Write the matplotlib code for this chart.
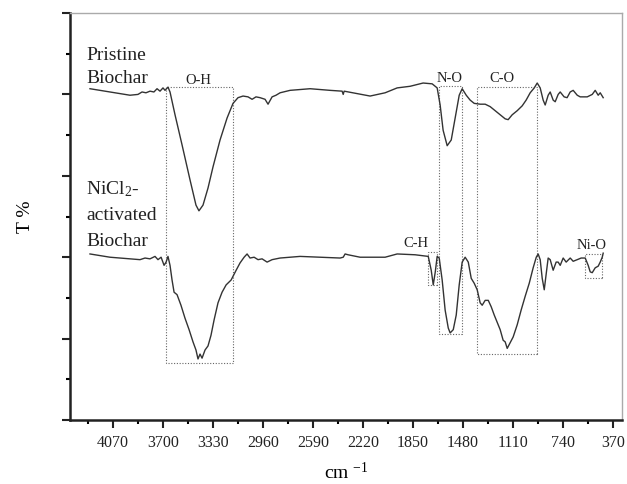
import matplotlib
matplotlib.use("Agg")
import matplotlib.pyplot as plt
from matplotlib.patches import Rectangle
from matplotlib.ticker import MultipleLocator, FixedLocator

plt.rcParams['font.family'] = ['Liberation Serif', 'DejaVu Serif']
plt.rcParams['mathtext.fontset'] = 'custom'
plt.rcParams['mathtext.rm'] = 'Liberation Serif'
plt.rcParams['mathtext.it'] = 'Liberation Serif:italic'

# Pristine biochar spectrum (wavenumber, offset transmittance)
pristine_wn = [4240, 4092, 3944, 3885, 3855, 3826, 3796, 3767, 3744, 3722, 3700, 3685, 3663, 3648,
               3611, 3559, 3500, 3456, 3434, 3404, 3367, 3330, 3278, 3226, 3182, 3145, 3108, 3071,
               3041, 3012, 2982, 2945, 2923, 2893, 2864, 2834, 2760, 2612, 2464, 2375, 2367, 2360,
               2168, 2057, 1968, 1872, 1776, 1709, 1672, 1650, 1628, 1598, 1568, 1539, 1509, 1487,
               1457, 1428, 1398, 1354, 1317, 1280, 1243, 1206, 1169, 1147, 1117, 1080, 1043, 1014,
               984, 954, 932, 910, 888, 873, 851, 836, 814, 799, 777, 762, 733, 711, 688, 666, 636,
               614, 562, 525, 503, 481, 466, 444]
pristine_t = [4.07, 4.03, 3.99, 4.00, 4.03, 4.02, 4.04, 4.03, 4.07, 4.04, 4.08, 4.05, 4.09, 4.03,
              3.75, 3.38, 2.95, 2.64, 2.57, 2.64, 2.85, 3.11, 3.44, 3.71, 3.89, 3.96, 3.98, 3.97,
              3.94, 3.97, 3.96, 3.94, 3.88, 3.97, 3.99, 4.02, 4.05, 4.07, 4.05, 4.04, 4.00, 4.04,
              3.98, 4.02, 4.08, 4.10, 4.14, 4.13, 4.08, 3.87, 3.56, 3.37, 3.44, 3.71, 3.99, 4.07,
              3.99, 3.93, 3.89, 3.88, 3.88, 3.85, 3.80, 3.75, 3.70, 3.69, 3.75, 3.80, 3.86, 3.93,
              4.02, 4.08, 4.14, 4.08, 3.93, 3.87, 3.99, 4.03, 3.93, 3.91, 4.00, 4.03, 3.97, 3.96,
              4.03, 4.05, 3.99, 3.97, 3.97, 4.00, 4.05, 3.99, 4.02, 3.96]

# NiCl2-activated biochar spectrum
nicl_wn = [4240, 4092, 3944, 3870, 3833, 3796, 3759, 3737, 3714, 3692, 3677, 3663, 3648, 3633,
           3618, 3596, 3567, 3537, 3507, 3478, 3456, 3441, 3426, 3411, 3389, 3367, 3345, 3322,
           3293, 3263, 3233, 3196, 3159, 3130, 3100, 3078, 3056, 3026, 2997, 2967, 2930, 2893,
           2834, 2686, 2538, 2390, 2367, 2353, 2331, 2242, 2057, 1968, 1835, 1738, 1716, 1701,
           1686, 1672, 1657, 1635, 1613, 1590, 1576, 1553, 1531, 1509, 1487, 1465, 1442, 1420,
           1398, 1376, 1354, 1339, 1317, 1294, 1272, 1250, 1228, 1206, 1184, 1169, 1154, 1132,
           1110, 1080, 1051, 1021, 991, 962, 939, 925, 910, 895, 880, 866, 851, 836, 814, 792,
           777, 762, 740, 718, 688, 666, 636, 607, 577, 555, 540, 525, 503, 481, 466, 451, 444]
nicl_t = [2.04, 2.00, 1.98, 1.97, 1.99, 1.98, 2.01, 1.97, 2.00, 1.90, 1.94, 2.01, 1.90, 1.72,
          1.57, 1.54, 1.41, 1.25, 1.11, 0.96, 0.86, 0.75, 0.81, 0.76, 0.86, 0.91, 1.04, 1.23,
          1.44, 1.57, 1.66, 1.72, 1.84, 1.93, 2.00, 2.04, 1.99, 2.00, 1.97, 1.98, 1.94, 1.97,
          1.99, 2.01, 2.00, 1.99, 2.00, 2.04, 2.03, 2.00, 2.00, 2.04, 2.03, 2.01, 1.84, 1.66,
          1.82, 2.01, 1.99, 1.72, 1.35, 1.13, 1.07, 1.11, 1.29, 1.66, 1.94, 2.00, 1.94, 1.74,
          1.68, 1.60, 1.44, 1.41, 1.47, 1.47, 1.39, 1.29, 1.20, 1.11, 0.98, 0.96, 0.88, 0.95,
          1.02, 1.17, 1.35, 1.52, 1.68, 1.87, 2.00, 2.04, 1.97, 1.74, 1.60, 1.79, 1.99, 1.97,
          1.84, 1.94, 1.94, 1.90, 1.99, 1.94, 1.99, 1.95, 1.97, 1.99, 1.99, 1.90, 1.82, 1.81,
          1.87, 1.89, 1.94, 2.00, 2.05]

# Band boxes: label, wn_high, wn_low, t_low, t_high, label_wn, label_t
box_labels = ["O-H", "N-O", "C-O", "C-H", "Ni-O"]
box_wn_high = [3678, 1662, 1381, 1738, 577]
box_wn_low = [3182, 1492, 936, 1672, 451]
box_t_low = [0.70, 1.06, 0.81, 1.66, 1.74]
box_t_high = [4.09, 4.10, 4.09, 2.06, 2.04]
label_wn = [3441, 1583, 1190, 1740, 533]
label_t = [4.17, 4.20, 4.20, 2.17, 2.15]
label_ha = ["center", "center", "center", "right", "center"]

xticks = [4070, 3700, 3330, 2960, 2590, 2220, 1850, 1480, 1110, 740, 370]

fig = plt.figure(figsize=(6.27, 4.84), dpi=100)
ax = fig.add_axes([0.1116, 0.1322, 0.8804, 0.8409])

ax.plot(pristine_wn, pristine_t, color='#333333', lw=1.0)
ax.plot(nicl_wn, nicl_t, color='#333333', lw=1.0)

for lab, hi, lo, tl, th, lw_, lt, ha in zip(box_labels, box_wn_high, box_wn_low, box_t_low,
                                            box_t_high, label_wn, label_t, label_ha):
    ax.add_patch(Rectangle((lo, tl), hi - lo, th - tl, fill=False, ls=(0, (1, 1.5)),
                           lw=0.8, edgecolor='#666666'))
    ax.text(lw_, lt, lab, ha=ha, va='center', fontsize=10.5, color='#222222')

ax.text(4270, 4.48, "Pristine", ha='left', va='center', fontsize=14, color='#222222')
ax.text(4270, 4.19, "Biochar", ha='left', va='center', fontsize=14, color='#222222')
ax.text(4270, 2.84, "NiCl$_2$-", ha='left', va='center', fontsize=14, color='#222222')
ax.text(4270, 2.51, "activated", ha='left', va='center', fontsize=14, color='#222222')
ax.text(4270, 2.19, "Biochar", ha='left', va='center', fontsize=14, color='#222222')

ax.set_xlim(4388, 305)
ax.set_ylim(0, 5)
ax.xaxis.set_major_locator(FixedLocator(xticks))
ax.xaxis.set_minor_locator(FixedLocator([x + 185 for x in xticks]))
ax.yaxis.set_major_locator(MultipleLocator(1))
ax.yaxis.set_minor_locator(MultipleLocator(0.5))
ax.set_yticklabels([])
ax.tick_params(which='major', direction='out', length=5.5, width=1.5, labelsize=11.5,
               colors='#222222')
ax.tick_params(which='minor', direction='out', length=3, width=1.5)
ax.tick_params(axis='x', pad=5)

for s in ['left', 'bottom']:
    ax.spines[s].set_linewidth(1.8)
    ax.spines[s].set_color('#222222')
for s in ['top', 'right']:
    ax.spines[s].set_linewidth(1.0)
    ax.spines[s].set_color('#aaaaaa')

ax.set_xlabel("cm $^{\\mathrm{-1}}$", fontsize=14, labelpad=8)
ax.set_ylabel("T %", fontsize=14, labelpad=17)

fig.savefig("out.png", dpi=100)
